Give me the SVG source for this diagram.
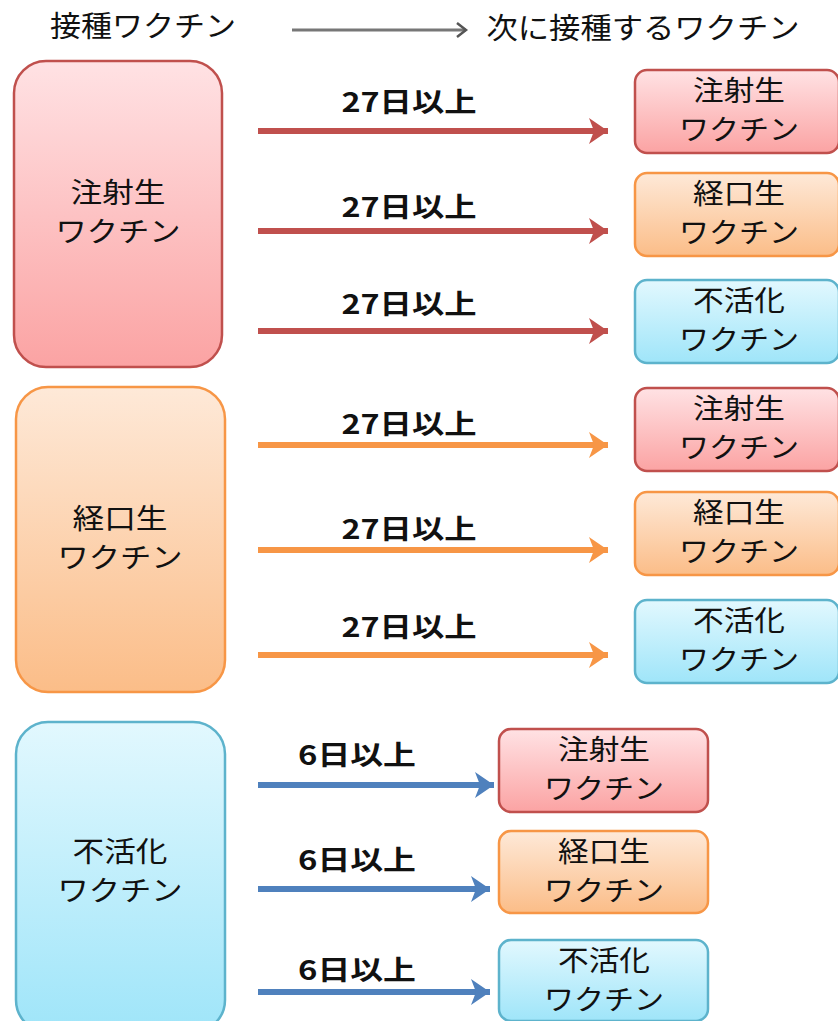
<svg xmlns="http://www.w3.org/2000/svg" width="838" height="1021" viewBox="0 0 838 1021">
<defs>
<linearGradient id="gr" x1="0" y1="0" x2="0" y2="1"><stop offset="0" stop-color="#ffe2e4"/><stop offset="1" stop-color="#fba3a3"/></linearGradient>
<linearGradient id="go" x1="0" y1="0" x2="0" y2="1"><stop offset="0" stop-color="#fee9d8"/><stop offset="1" stop-color="#fbbd88"/></linearGradient>
<linearGradient id="gb" x1="0" y1="0" x2="0" y2="1"><stop offset="0" stop-color="#e2f8fe"/><stop offset="1" stop-color="#9fe5f9"/></linearGradient>
<marker id="ah-r" markerUnits="userSpaceOnUse" markerWidth="24" markerHeight="28" refX="22" refY="14" orient="auto"><path d="M3,1 L22,14 L3,27 L8,14 Z" fill="#c0504d"/></marker>
<marker id="ah-o" markerUnits="userSpaceOnUse" markerWidth="24" markerHeight="28" refX="22" refY="14" orient="auto"><path d="M3,1 L22,14 L3,27 L8,14 Z" fill="#f79646"/></marker>
<marker id="ah-b" markerUnits="userSpaceOnUse" markerWidth="24" markerHeight="28" refX="22" refY="14" orient="auto"><path d="M3,1 L22,14 L3,27 L8,14 Z" fill="#4f81bd"/></marker>
<marker id="ah-g" markerUnits="userSpaceOnUse" markerWidth="16" markerHeight="20" refX="13" refY="10" orient="auto"><path d="M4,3 L13,10 L4,17" fill="none" stroke="#555" stroke-width="2.5"/></marker>
</defs>
<style>
text{font-family:"Noto Sans CJK JP","Noto Sans",sans-serif;fill:#111;dominant-baseline:central;text-anchor:middle}
.t{font-size:28px}
.h{font-size:29px}
.lb{font-size:27px;font-weight:bold}
.r{fill:url(#gr);stroke:#c0504d;stroke-width:2.5}
.o{fill:url(#go);stroke:#f79646;stroke-width:2.5}
.b{fill:url(#gb);stroke:#5db3cc;stroke-width:2.5}
.ar{stroke:#c0504d;stroke-width:6;fill:none;marker-end:url(#ah-r)}
.ao{stroke:#f79646;stroke-width:6;fill:none;marker-end:url(#ah-o)}
.ab{stroke:#4f81bd;stroke-width:6;fill:none;marker-end:url(#ah-b)}
</style>
<rect width="838" height="1021" fill="#fff"/>
<g id="header">
<text class="h" x="143" y="24" textLength="186" lengthAdjust="spacingAndGlyphs">接種ワクチン</text>
<line x1="292" y1="30" x2="466" y2="30" stroke="#777" stroke-width="3" marker-end="url(#ah-g)"/>
<text class="h" x="643" y="26" textLength="313" lengthAdjust="spacingAndGlyphs">次に接種するワクチン</text>
</g>
<g id="src-chusha">
<rect class="r" x="14" y="61" width="208" height="306" rx="32"/>
<text class="t" x="118" y="191" textLength="95" lengthAdjust="spacingAndGlyphs">注射生</text>
<text class="t" x="118" y="230" textLength="125" lengthAdjust="spacingAndGlyphs">ワクチン</text>
</g>
<g id="src-keiko">
<rect class="o" x="16" y="387" width="209" height="305" rx="32"/>
<text class="t" x="120" y="517" textLength="95" lengthAdjust="spacingAndGlyphs">経口生</text>
<text class="t" x="120" y="556" textLength="125" lengthAdjust="spacingAndGlyphs">ワクチン</text>
</g>
<g id="src-fukatsu">
<rect class="b" x="16" y="722" width="209" height="310" rx="32"/>
<text class="t" x="120" y="850" textLength="95" lengthAdjust="spacingAndGlyphs">不活化</text>
<text class="t" x="120" y="889" textLength="125" lengthAdjust="spacingAndGlyphs">ワクチン</text>
</g>
<g id="connectors">
<line class="ar" x1="258" y1="131" x2="608" y2="131"/>
<line class="ar" x1="258" y1="231" x2="608" y2="231"/>
<line class="ar" x1="258" y1="331" x2="608" y2="331"/>
<line class="ao" x1="258" y1="445" x2="608" y2="445"/>
<line class="ao" x1="258" y1="550" x2="608" y2="550"/>
<line class="ao" x1="258" y1="655" x2="608" y2="655"/>
<line class="ab" x1="258" y1="785" x2="494" y2="785"/>
<line class="ab" x1="258" y1="889" x2="490" y2="889"/>
<line class="ab" x1="258" y1="992" x2="490" y2="992"/>
<text class="lb" x="409" y="100" textLength="135" lengthAdjust="spacingAndGlyphs">27日以上</text>
<text class="lb" x="409" y="205" textLength="135" lengthAdjust="spacingAndGlyphs">27日以上</text>
<text class="lb" x="409" y="302" textLength="135" lengthAdjust="spacingAndGlyphs">27日以上</text>
<text class="lb" x="409" y="422" textLength="135" lengthAdjust="spacingAndGlyphs">27日以上</text>
<text class="lb" x="409" y="527" textLength="135" lengthAdjust="spacingAndGlyphs">27日以上</text>
<text class="lb" x="409" y="625" textLength="135" lengthAdjust="spacingAndGlyphs">27日以上</text>
<text class="lb" x="357" y="753" textLength="118" lengthAdjust="spacingAndGlyphs">6日以上</text>
<text class="lb" x="357" y="858" textLength="118" lengthAdjust="spacingAndGlyphs">6日以上</text>
<text class="lb" x="357" y="968" textLength="118" lengthAdjust="spacingAndGlyphs">6日以上</text>
</g>
<g id="dst-1">
<rect class="r" x="635" y="70" width="204" height="83" rx="12"/>
<text class="t" x="739" y="89" textLength="92" lengthAdjust="spacingAndGlyphs">注射生</text>
<text class="t" x="739" y="128" textLength="120" lengthAdjust="spacingAndGlyphs">ワクチン</text>
</g>
<g id="dst-2">
<rect class="o" x="635" y="173" width="204" height="83" rx="12"/>
<text class="t" x="739" y="192" textLength="92" lengthAdjust="spacingAndGlyphs">経口生</text>
<text class="t" x="739" y="231" textLength="120" lengthAdjust="spacingAndGlyphs">ワクチン</text>
</g>
<g id="dst-3">
<rect class="b" x="635" y="280" width="204" height="83" rx="12"/>
<text class="t" x="739" y="299" textLength="92" lengthAdjust="spacingAndGlyphs">不活化</text>
<text class="t" x="739" y="338" textLength="120" lengthAdjust="spacingAndGlyphs">ワクチン</text>
</g>
<g id="dst-4">
<rect class="r" x="635" y="388" width="204" height="83" rx="12"/>
<text class="t" x="739" y="407" textLength="92" lengthAdjust="spacingAndGlyphs">注射生</text>
<text class="t" x="739" y="446" textLength="120" lengthAdjust="spacingAndGlyphs">ワクチン</text>
</g>
<g id="dst-5">
<rect class="o" x="635" y="492" width="204" height="83" rx="12"/>
<text class="t" x="739" y="511" textLength="92" lengthAdjust="spacingAndGlyphs">経口生</text>
<text class="t" x="739" y="550" textLength="120" lengthAdjust="spacingAndGlyphs">ワクチン</text>
</g>
<g id="dst-6">
<rect class="b" x="635" y="600" width="204" height="83" rx="12"/>
<text class="t" x="739" y="619" textLength="92" lengthAdjust="spacingAndGlyphs">不活化</text>
<text class="t" x="739" y="658" textLength="120" lengthAdjust="spacingAndGlyphs">ワクチン</text>
</g>
<g id="dst-7">
<rect class="r" x="499" y="729" width="209" height="83" rx="12"/>
<text class="t" x="604" y="748" textLength="92" lengthAdjust="spacingAndGlyphs">注射生</text>
<text class="t" x="604" y="787" textLength="120" lengthAdjust="spacingAndGlyphs">ワクチン</text>
</g>
<g id="dst-8">
<rect class="o" x="499" y="831" width="209" height="82" rx="12"/>
<text class="t" x="604" y="850" textLength="92" lengthAdjust="spacingAndGlyphs">経口生</text>
<text class="t" x="604" y="889" textLength="120" lengthAdjust="spacingAndGlyphs">ワクチン</text>
</g>
<g id="dst-9">
<rect class="b" x="499" y="940" width="209" height="81" rx="12"/>
<text class="t" x="604" y="959" textLength="92" lengthAdjust="spacingAndGlyphs">不活化</text>
<text class="t" x="604" y="998" textLength="120" lengthAdjust="spacingAndGlyphs">ワクチン</text>
</g>
</svg>
